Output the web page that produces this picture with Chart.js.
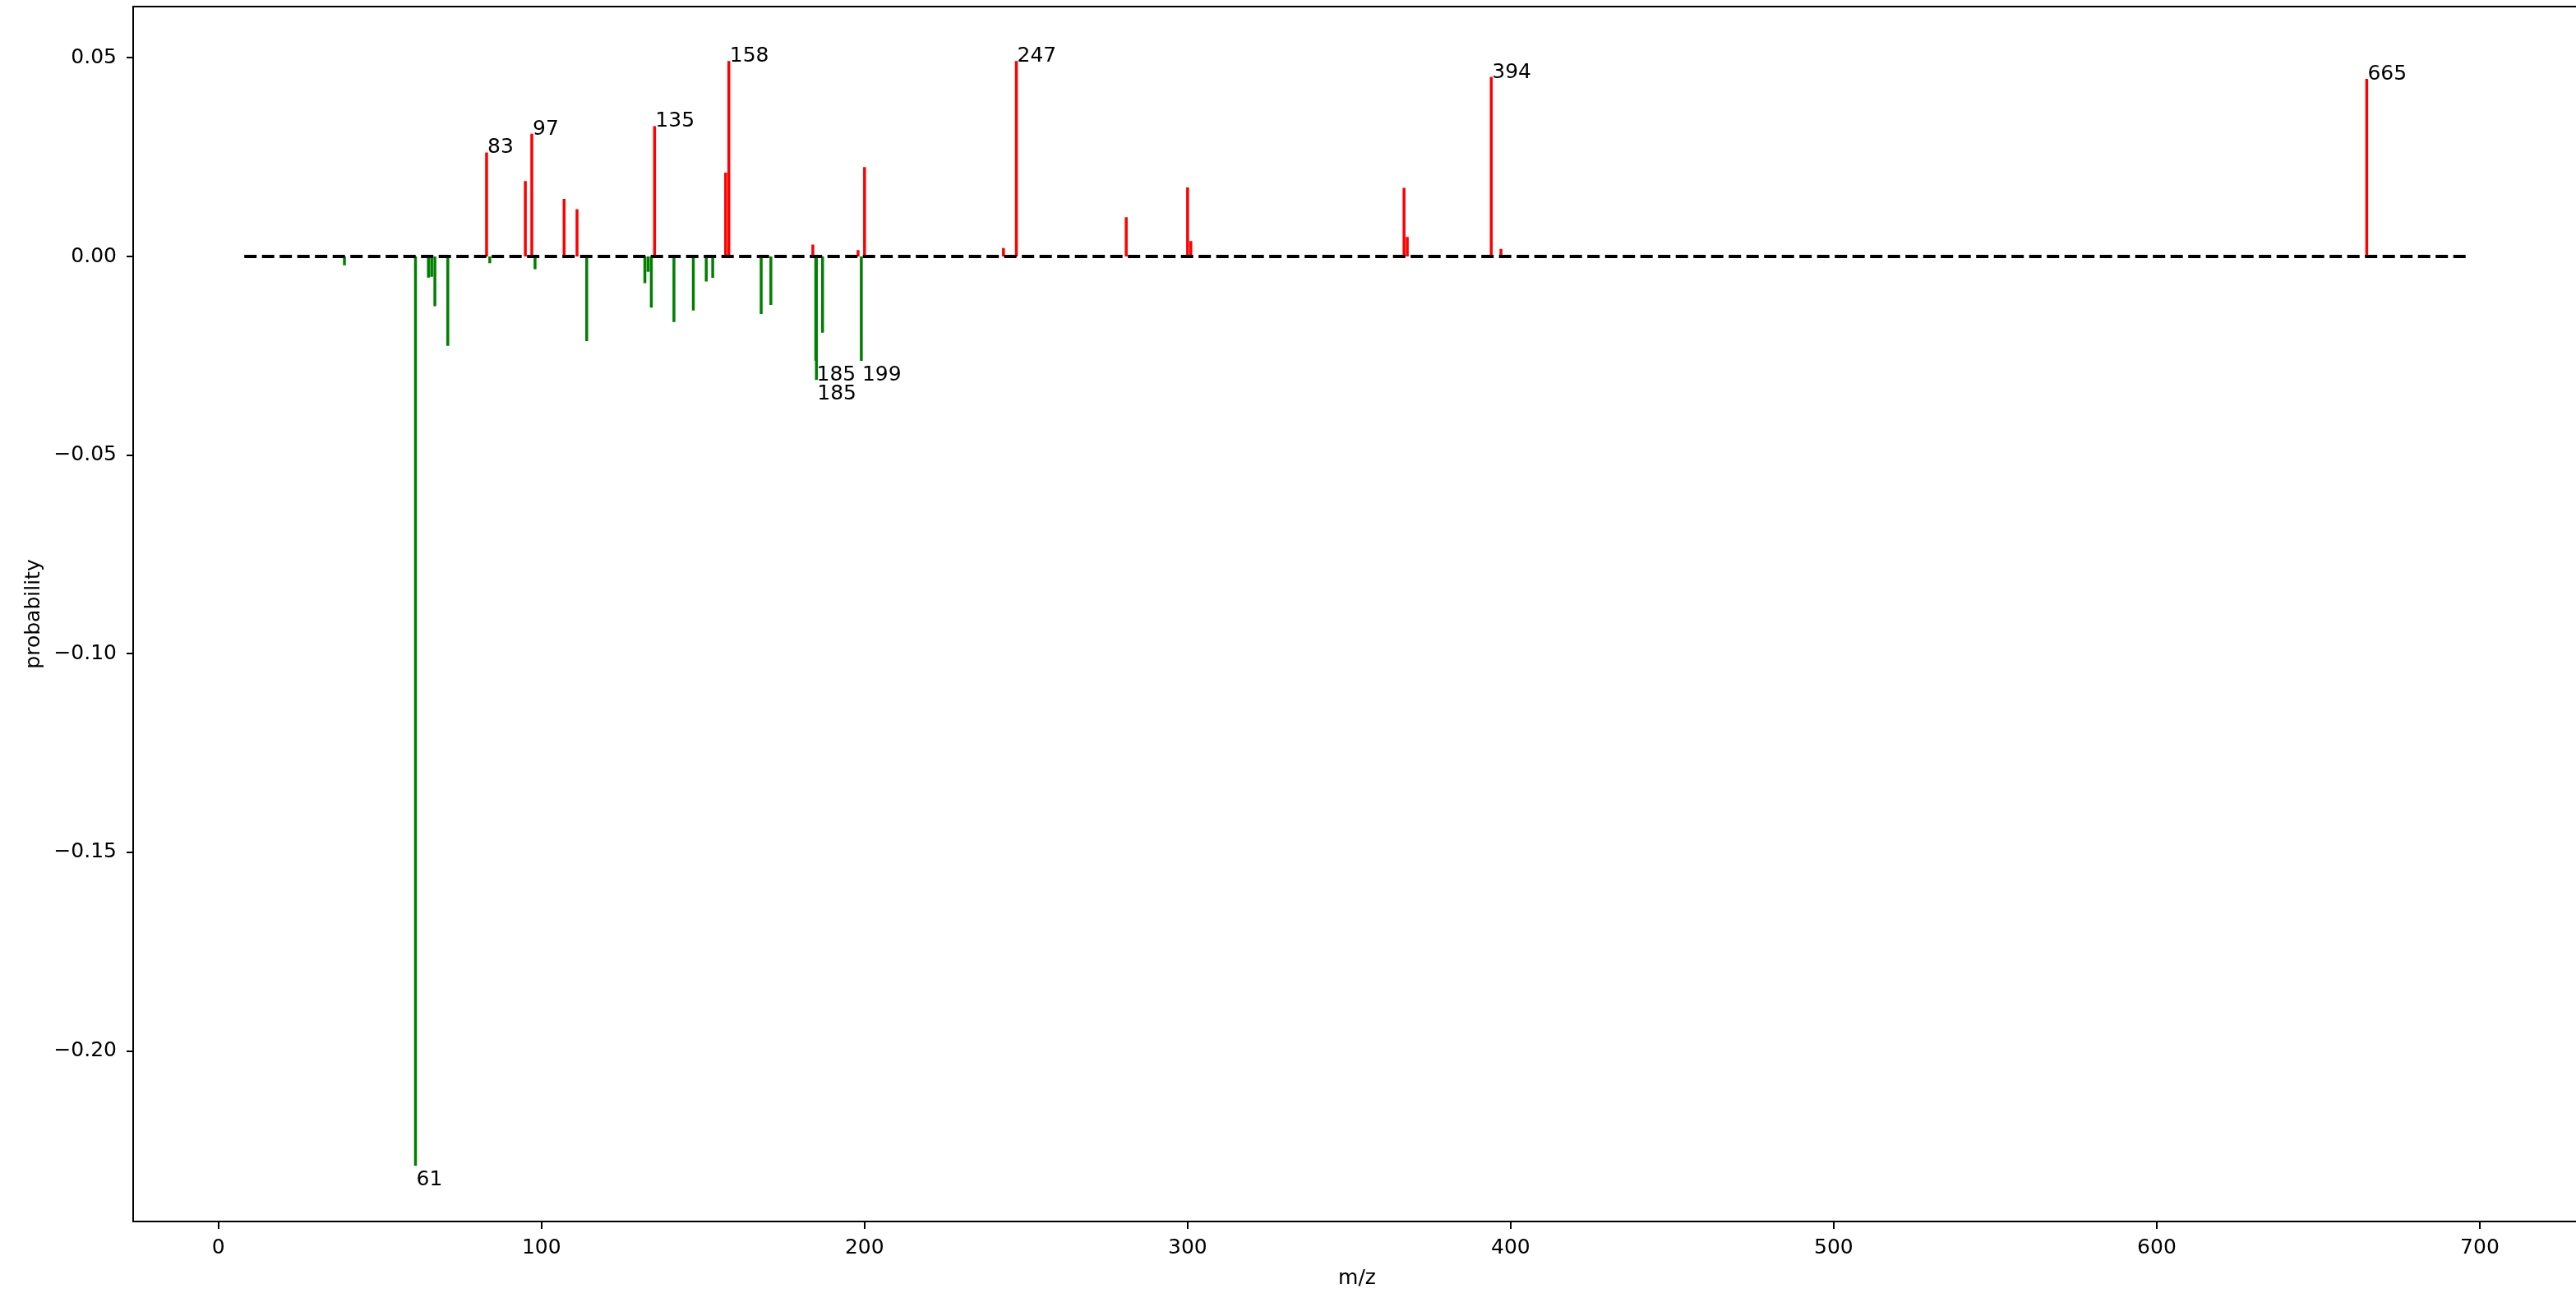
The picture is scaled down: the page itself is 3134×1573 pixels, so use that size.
<!DOCTYPE html>
<html>
<head>
<meta charset="utf-8">
<script src="https://cdn.jsdelivr.net/npm/chart.js@4/dist/chart.umd.min.js"></script>
<style>
  body { margin: 0; overflow: hidden; background: #fff; }
  #wrap { width: 3150px; height: 1573px; }
</style>
</head>
<body>
<div id="wrap"><canvas id="spectrumCanvas" width="3150" height="1573"></canvas></div>
<script>
// 上向きのピーク（赤）
const redMz = [83, 95, 97, 107, 111, 135, 157, 158, 184, 198, 200, 243, 247, 281, 300, 301, 367, 368, 394, 397, 665];
const redProb = [0.0262, 0.019, 0.0309, 0.0145, 0.0119, 0.0328, 0.0211, 0.0492, 0.003, 0.0016, 0.0225, 0.0021, 0.0492, 0.0099, 0.0174, 0.0039, 0.0173, 0.0049, 0.0452, 0.0019, 0.0447];

// 下向きのピーク（緑）
const greenMz = [39, 61, 65, 66, 67, 71, 84, 98, 114, 132, 133, 134, 141, 147, 151, 153, 168, 171, 184.9, 185.1, 187, 199];
const greenProb = [-0.0022, -0.2289, -0.0053, -0.0051, -0.0125, -0.0225, -0.0017, -0.0032, -0.0213, -0.0067, -0.0039, -0.0129, -0.0165, -0.0136, -0.0063, -0.0054, -0.0145, -0.0122, -0.0262, -0.0311, -0.0192, -0.0263];

// 基準線
const baseMz = [8, 697];
const baseProb = [0, 0];

// ピークのラベル
const labelMz = [61, 83, 97, 135, 158, 184.9, 185.1, 199, 247, 394, 665];
const labelProb = [-0.2289, 0.0262, 0.0309, 0.0328, 0.0492, -0.0262, -0.0311, -0.0263, 0.0492, 0.0452, 0.0447];
const labelText = ["61", "83", "97", "135", "158", "185", "185", "199", "247", "394", "665"];

// 軸の範囲と目盛り
const xMin = -26.4, xMax = 731.3, xStep = 100;
const yMin = -0.2429, yMax = 0.0629, yStep = 0.05;

const FONT = "'DejaVu Sans', sans-serif";

/**
 * ピークを縦線の点列にする（null で区切る）。
 */
const stems = (xs, ys) => {
  const pts = [];
  xs.forEach((x, i) => {
    pts.push({ x: x, y: 0 });
    pts.push({ x: x, y: ys[i] });
    pts.push({ x: x, y: null });
  });
  return pts;
};

const frameAndLabels = {
  id: "frameAndLabels",
  afterDatasetsDraw(chart) {
    const { ctx, chartArea, scales } = chart;
    ctx.save();
    ctx.fillStyle = "#000";
    ctx.font = "25px " + FONT;
    ctx.textAlign = "left";
    labelMz.forEach((mz, i) => {
      const px = scales.x.getPixelForValue(mz);
      const py = scales.y.getPixelForValue(labelProb[i]);
      if (labelProb[i] >= 0) {
        ctx.textBaseline = "alphabetic";
        ctx.fillText(labelText[i], px + 1, py + 1);
      } else {
        ctx.textBaseline = "top";
        ctx.fillText(labelText[i], px + 1, py + 5);
      }
    });
    ctx.strokeStyle = "#000";
    ctx.lineWidth = 2;
    ctx.strokeRect(chartArea.left, chartArea.top, chartArea.right - chartArea.left, chartArea.bottom - chartArea.top);
    ctx.restore();
  },
};

const fmt = (v) => {
  const s = Math.abs(v).toFixed(2);
  return v < -1e-9 ? "\u2212" + s : s;
};

let ctx = document.getElementById("spectrumCanvas").getContext("2d");
let data = {
  datasets: [
    {
      data: baseMz.map((x, i) => ({ x: x, y: baseProb[i] })),
      showLine: true,
      pointRadius: 0,
      borderColor: "#000",
      borderWidth: 4,
      borderDash: [15, 6.5],
      borderCapStyle: "butt",
    },
    {
      data: stems(redMz, redProb),
      showLine: true,
      pointRadius: 0,
      borderColor: "rgb(255, 0, 0)",
      borderWidth: 3.5,
      borderCapStyle: "butt",
      spanGaps: false,
    },
    {
      data: stems(greenMz, greenProb),
      showLine: true,
      pointRadius: 0,
      borderColor: "rgb(0, 128, 0)",
      borderWidth: 3.5,
      borderCapStyle: "butt",
      spanGaps: false,
    },
  ],
};
let options = {
  responsive: false,
  animation: false,
  devicePixelRatio: 1,
  layout: { padding: { left: 0, top: 8, right: 10, bottom: 0 } },
  plugins: {
    legend: { display: false },
    tooltip: { enabled: false },
  },
  scales: {
    x: {
      type: "linear",
      min: xMin,
      max: xMax,
      border: { display: false },
      grid: { drawOnChartArea: false, drawTicks: true, tickLength: 9, color: "#000", lineWidth: 2 },
      ticks: {
        stepSize: xStep,
        includeBounds: false,
        autoSkip: false,
        maxRotation: 0,
        padding: 8,
        color: "#000",
        font: { family: FONT, size: 25 },
        callback: (v) => String(Math.round(v)),
      },
      title: {
        display: true,
        text: "m/z",
        color: "#000",
        font: { family: FONT, size: 25 },
        padding: { top: 0, bottom: 3 },
      },
      afterFit: (s) => {
        s.height = 87;
        s.paddingLeft = 0;
        s.paddingRight = 0;
      },
    },
    y: {
      type: "linear",
      min: yMin,
      max: yMax,
      border: { display: false },
      grid: { drawOnChartArea: false, drawTicks: true, tickLength: 8, color: "#000", lineWidth: 2 },
      ticks: {
        stepSize: yStep,
        includeBounds: false,
        autoSkip: false,
        padding: 12,
        color: "#000",
        font: { family: FONT, size: 25 },
        callback: (v) => fmt(v),
      },
      title: {
        display: true,
        text: "probability",
        color: "#000",
        font: { family: FONT, size: 25 },
        padding: { top: 26, bottom: 0 },
      },
      afterFit: (s) => {
        s.width = 162;
        s.paddingTop = 0;
        s.paddingBottom = 0;
      },
    },
  },
};
let spectrumChart = new Chart(ctx, {
  type: "scatter",
  data: data,
  options: options,
  plugins: [frameAndLabels],
});
</script>
</body>
</html>
